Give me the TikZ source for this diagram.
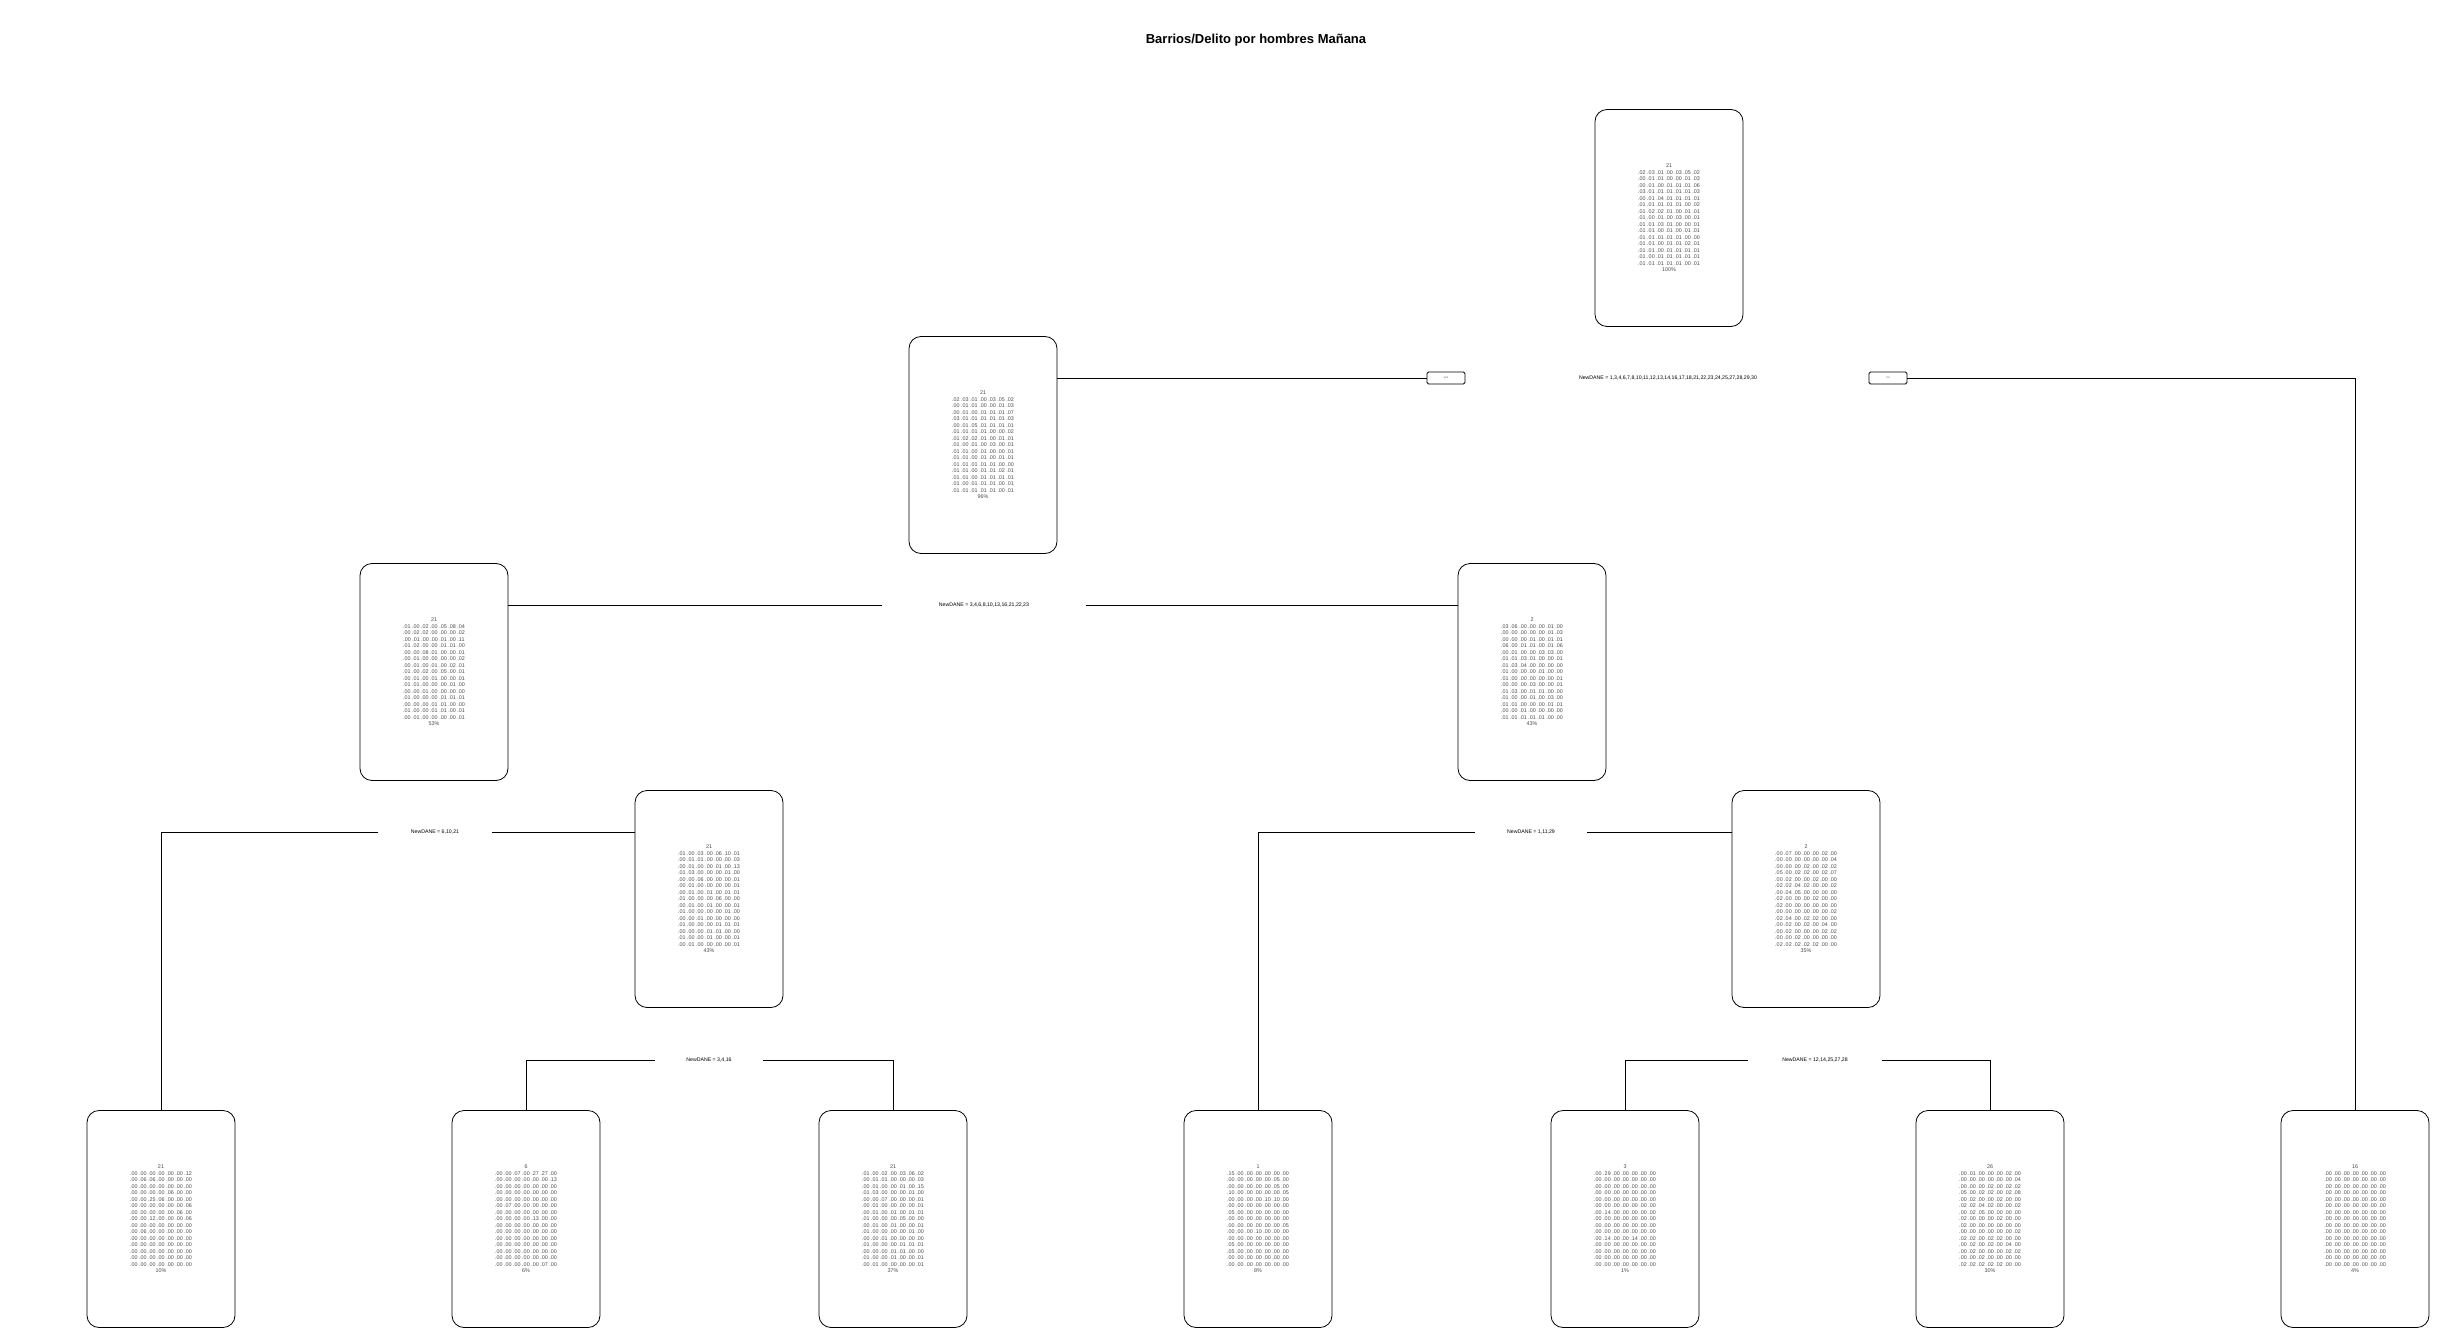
\documentclass[tikz,border=0pt]{standalone}
\usepackage{fontspec}
\setmainfont{Liberation Sans}
\tikzset{
  treebox/.style={draw,rounded corners=12pt,line width=0.8pt,minimum width=148pt,minimum height=217pt,
    align=center,text=black!70,font=\fontsize{5.4}{6.5}\selectfont},
  splitlab/.style={inner sep=0pt,font=\fontsize{5.2}{6}\selectfont},
  yesno/.style={draw,rounded corners=1.5pt,line width=0.8pt,minimum width=38pt,minimum height=12pt,
    inner sep=0pt,text=black!60,font=\fontsize{3}{3}\selectfont},
  edge/.style={line width=0.8pt}
}
\begin{document}
\begin{tikzpicture}[x=1pt,y=-1pt]
  \useasboundingbox (0,0) rectangle (2447,1337);
  \node[font=\bfseries\fontsize{13}{15}\selectfont] (title) at (1256,40) {Barrios/Delito por hombres Mañana};
  % inner nodes
  \node[treebox] (root) at (1669,218) {21\\
    .02 .03 .01 .00 .03 .05 .02\\ .00 .01 .01 .00 .00 .01 .03\\ .00 .01 .00 .01 .01 .01 .06\\
    .03 .01 .01 .01 .01 .01 .03\\ .00 .01 .04 .01 .01 .01 .01\\ .01 .01 .01 .01 .01 .00 .02\\
    .01 .02 .02 .01 .00 .01 .01\\ .01 .00 .01 .00 .03 .00 .01\\ .01 .01 .03 .01 .00 .00 .01\\
    .01 .01 .00 .01 .00 .01 .01\\ .01 .01 .01 .01 .01 .00 .00\\ .01 .01 .00 .01 .01 .02 .01\\
    .01 .01 .00 .01 .01 .01 .01\\ .01 .00 .01 .01 .01 .01 .01\\ .01 .01 .01 .01 .01 .00 .01\\ 100\%};
  \node[treebox] (n2) at (983,445) {21\\
    .02 .03 .01 .00 .03 .05 .02\\ .00 .01 .01 .00 .00 .01 .03\\ .00 .01 .00 .01 .01 .01 .07\\
    .03 .01 .01 .01 .01 .01 .03\\ .00 .01 .05 .01 .01 .01 .01\\ .01 .01 .01 .01 .00 .00 .02\\
    .01 .02 .02 .01 .00 .01 .01\\ .01 .00 .01 .00 .03 .00 .01\\ .01 .01 .00 .01 .00 .00 .01\\
    .01 .01 .00 .01 .00 .01 .01\\ .01 .01 .01 .01 .01 .00 .00\\ .01 .01 .00 .01 .01 .02 .01\\
    .01 .01 .00 .01 .01 .01 .01\\ .01 .00 .01 .01 .01 .00 .01\\ .01 .01 .01 .01 .01 .00 .01\\ 96\%};
  \node[treebox] (n4) at (434,672) {21\\
    .01 .00 .02 .00 .05 .08 .04\\ .00 .02 .02 .00 .00 .00 .02\\ .00 .01 .00 .00 .01 .00 .11\\
    .01 .02 .00 .00 .01 .01 .00\\ .00 .00 .08 .01 .00 .00 .01\\ .00 .01 .00 .00 .00 .00 .02\\
    .00 .01 .00 .01 .00 .02 .01\\ .01 .00 .02 .00 .05 .00 .01\\ .00 .01 .00 .01 .00 .00 .01\\
    .01 .01 .00 .00 .00 .01 .00\\ .00 .00 .01 .00 .00 .00 .00\\ .01 .00 .00 .00 .01 .01 .01\\
    .00 .00 .00 .01 .01 .00 .00\\ .01 .00 .00 .01 .01 .00 .01\\ .00 .01 .00 .00 .00 .00 .01\\ 53\%};
  \node[treebox] (n5) at (1532,672) {2\\
    .03 .06 .00 .00 .00 .01 .00\\ .00 .00 .00 .00 .00 .01 .03\\ .00 .00 .00 .01 .00 .01 .01\\
    .06 .00 .01 .01 .00 .01 .06\\ .00 .01 .00 .00 .03 .03 .00\\ .01 .01 .03 .01 .00 .00 .01\\
    .01 .03 .04 .00 .00 .00 .00\\ .01 .00 .00 .00 .01 .00 .00\\ .01 .00 .00 .00 .00 .00 .01\\
    .00 .00 .00 .03 .00 .00 .01\\ .01 .03 .00 .01 .01 .00 .00\\ .01 .00 .00 .01 .00 .03 .00\\
    .01 .01 .00 .00 .00 .01 .01\\ .00 .00 .01 .00 .00 .00 .00\\ .01 .01 .01 .01 .01 .00 .00\\ 43\%};
  \node[treebox] (n9) at (709,899) {21\\
    .01 .00 .03 .00 .06 .10 .01\\ .00 .01 .01 .00 .00 .00 .03\\ .00 .01 .00 .00 .01 .00 .13\\
    .01 .03 .00 .00 .00 .01 .00\\ .00 .00 .06 .00 .00 .00 .01\\ .00 .01 .00 .00 .00 .00 .01\\
    .00 .01 .00 .01 .00 .01 .01\\ .01 .00 .00 .00 .06 .00 .00\\ .00 .01 .00 .01 .00 .00 .01\\
    .01 .00 .00 .00 .00 .01 .00\\ .00 .00 .01 .00 .00 .00 .00\\ .01 .00 .00 .00 .01 .01 .01\\
    .00 .00 .00 .01 .01 .00 .00\\ .01 .00 .00 .01 .00 .00 .01\\ .00 .01 .00 .00 .00 .00 .01\\ 43\%};
  \node[treebox] (n11) at (1806,899) {2\\
    .00 .07 .00 .00 .00 .02 .00\\ .00 .00 .00 .00 .00 .00 .04\\ .00 .00 .00 .02 .00 .02 .02\\
    .05 .00 .02 .02 .00 .02 .07\\ .00 .02 .00 .00 .02 .00 .00\\ .02 .02 .04 .02 .00 .00 .02\\
    .00 .04 .05 .00 .00 .00 .00\\ .02 .00 .00 .00 .02 .00 .00\\ .02 .00 .00 .00 .00 .00 .00\\
    .00 .00 .00 .00 .00 .00 .02\\ .02 .04 .00 .02 .02 .00 .00\\ .00 .02 .00 .02 .00 .04 .00\\
    .00 .02 .00 .00 .00 .02 .02\\ .00 .00 .02 .00 .00 .00 .00\\ .02 .02 .02 .02 .02 .00 .00\\ 35\%};
  % leaves
  \node[treebox] (n8) at (161,1219) {21\\
    .00 .00 .00 .00 .00 .00 .12\\ .00 .06 .06 .00 .00 .00 .00\\ .00 .00 .00 .00 .00 .00 .00\\
    .00 .00 .00 .00 .06 .00 .00\\ .00 .00 .25 .06 .00 .00 .00\\ .00 .00 .00 .00 .00 .00 .06\\
    .00 .00 .00 .00 .00 .06 .00\\ .00 .00 .12 .00 .00 .00 .06\\ .00 .00 .00 .00 .00 .00 .00\\
    .00 .06 .00 .00 .00 .00 .00\\ .00 .00 .00 .00 .00 .00 .00\\ .00 .00 .00 .00 .00 .00 .00\\
    .00 .00 .00 .00 .00 .00 .00\\ .00 .00 .00 .00 .00 .00 .00\\ .00 .00 .00 .00 .00 .00 .00\\ 10\%};
  \node[treebox] (n18) at (526,1219) {6\\
    .00 .00 .07 .00 .27 .27 .00\\ .00 .00 .00 .00 .00 .00 .13\\ .00 .00 .00 .00 .00 .00 .00\\
    .00 .00 .00 .00 .00 .00 .00\\ .00 .00 .00 .00 .00 .00 .00\\ .00 .07 .00 .00 .00 .00 .00\\
    .00 .00 .00 .00 .00 .00 .00\\ .00 .00 .00 .00 .13 .00 .00\\ .00 .00 .00 .00 .00 .00 .00\\
    .00 .00 .00 .00 .00 .00 .00\\ .00 .00 .00 .00 .00 .00 .00\\ .00 .00 .00 .00 .00 .00 .00\\
    .00 .00 .00 .00 .00 .00 .00\\ .00 .00 .00 .00 .00 .00 .00\\ .00 .00 .00 .00 .00 .07 .00\\ 6\%};
  \node[treebox] (n19) at (893,1219) {21\\
    .01 .00 .02 .00 .03 .06 .02\\ .00 .01 .01 .00 .00 .00 .03\\ .00 .01 .00 .00 .01 .00 .15\\
    .01 .03 .00 .00 .00 .01 .00\\ .00 .00 .07 .00 .00 .00 .01\\ .00 .01 .00 .00 .00 .00 .01\\
    .00 .01 .00 .01 .00 .01 .01\\ .01 .00 .00 .00 .05 .00 .00\\ .00 .01 .00 .01 .00 .00 .01\\
    .01 .00 .00 .00 .00 .01 .00\\ .00 .00 .01 .00 .00 .00 .00\\ .01 .00 .00 .00 .01 .01 .01\\
    .00 .00 .00 .01 .01 .00 .00\\ .01 .00 .00 .01 .00 .00 .01\\ .00 .01 .00 .00 .00 .00 .01\\ 37\%};
  \node[treebox] (n10) at (1258,1219) {1\\
    .15 .00 .00 .00 .00 .00 .00\\ .00 .00 .00 .00 .00 .05 .00\\ .00 .00 .00 .00 .00 .05 .00\\
    .10 .00 .00 .00 .00 .00 .05\\ .00 .00 .00 .00 .10 .10 .00\\ .00 .00 .00 .00 .00 .00 .00\\
    .05 .00 .00 .00 .00 .00 .00\\ .00 .00 .00 .00 .00 .00 .00\\ .00 .00 .00 .00 .00 .00 .05\\
    .00 .00 .00 .10 .00 .00 .00\\ .00 .00 .00 .00 .00 .00 .00\\ .05 .00 .00 .00 .00 .00 .00\\
    .05 .00 .00 .00 .00 .00 .00\\ .00 .00 .00 .00 .00 .00 .00\\ .00 .00 .00 .00 .00 .00 .00\\ 8\%};
  \node[treebox] (n22) at (1625,1219) {3\\
    .00 .29 .00 .00 .00 .00 .00\\ .00 .00 .00 .00 .00 .00 .00\\ .00 .00 .00 .00 .00 .00 .00\\
    .00 .00 .00 .00 .00 .00 .00\\ .00 .00 .00 .00 .00 .00 .00\\ .00 .00 .00 .00 .00 .00 .00\\
    .00 .14 .00 .00 .00 .00 .00\\ .00 .00 .00 .00 .00 .00 .00\\ .00 .00 .00 .00 .00 .00 .00\\
    .00 .00 .00 .00 .00 .00 .00\\ .00 .14 .00 .00 .14 .00 .00\\ .00 .00 .00 .00 .00 .00 .00\\
    .00 .00 .00 .00 .00 .00 .00\\ .00 .00 .00 .00 .00 .00 .00\\ .00 .00 .00 .00 .00 .00 .00\\ 1\%};
  \node[treebox] (n23) at (1990,1219) {26\\
    .00 .01 .00 .00 .00 .02 .00\\ .00 .00 .00 .00 .00 .00 .04\\ .00 .00 .00 .02 .00 .02 .02\\
    .05 .00 .02 .02 .00 .02 .08\\ .00 .02 .00 .00 .02 .00 .00\\ .02 .02 .04 .02 .00 .00 .02\\
    .00 .02 .05 .00 .00 .00 .00\\ .02 .00 .00 .00 .02 .00 .00\\ .02 .00 .00 .00 .00 .00 .00\\
    .00 .00 .00 .00 .00 .00 .02\\ .02 .02 .00 .02 .02 .00 .00\\ .00 .02 .00 .02 .00 .04 .00\\
    .00 .02 .00 .00 .00 .02 .02\\ .00 .00 .02 .00 .00 .00 .00\\ .02 .02 .02 .02 .02 .00 .00\\ 30\%};
  \node[treebox] (n3) at (2355,1219) {16\\
    .00 .00 .00 .00 .00 .00 .00\\ .00 .00 .00 .00 .00 .00 .00\\ .00 .00 .00 .00 .00 .00 .00\\
    .00 .00 .00 .00 .00 .00 .00\\ .00 .00 .00 .00 .00 .00 .00\\ .00 .00 .00 .00 .00 .00 .00\\
    .00 .00 .00 .00 .00 .00 .00\\ .00 .00 .00 .00 .00 .00 .00\\ .00 .00 .00 .00 .00 .00 .00\\
    .00 .00 .00 .00 .00 .00 .00\\ .00 .00 .00 .00 .00 .00 .00\\ .00 .00 .00 .00 .00 .00 .00\\
    .00 .00 .00 .00 .00 .00 .00\\ .00 .00 .00 .00 .00 .00 .00\\ .00 .00 .00 .00 .00 .00 .00\\ 4\%};
  % split labels
  \node[splitlab] (s1) at (1668,378) {NewDANE = 1,3,4,6,7,8,10,11,12,13,14,16,17,18,21,22,23,24,25,27,28,29,30};
  \node[yesno] (yes) at (1446,378) {yes};
  \node[yesno] (no) at (1888,378) {no};
  \node[splitlab,minimum width=204pt] (s2) at (984,605) {NewDANE = 3,4,6,8,10,13,16,21,22,23};
  \node[splitlab,minimum width=113pt] (s4) at (435,832) {NewDANE = 6,10,21};
  \node[splitlab,minimum width=112pt] (s5) at (1531,832) {NewDANE = 1,11,29};
  \node[splitlab,minimum width=108pt] (s9) at (709,1060) {NewDANE = 3,4,16};
  \node[splitlab,minimum width=134pt] (s11) at (1815,1060) {NewDANE = 12,14,25,27,28};
  % connectors
  \draw[edge] (yes.west) -- (yes.west -| n2.east);
  \draw[edge] (no.east) -| (n3.north);
  \draw[edge] (s2.west) -- (s2.west -| n4.east);
  \draw[edge] (s2.east) -- (s2.east -| n5.west);
  \draw[edge] (s4.west) -| (n8.north);
  \draw[edge] (s4.east) -- (s4.east -| n9.west);
  \draw[edge] (s5.west) -| (n10.north);
  \draw[edge] (s5.east) -- (s5.east -| n11.west);
  \draw[edge] (s9.west) -| (n18.north);
  \draw[edge] (s9.east) -| (n19.north);
  \draw[edge] (s11.west) -| (n22.north);
  \draw[edge] (s11.east) -| (n23.north);
\end{tikzpicture}
\end{document}
